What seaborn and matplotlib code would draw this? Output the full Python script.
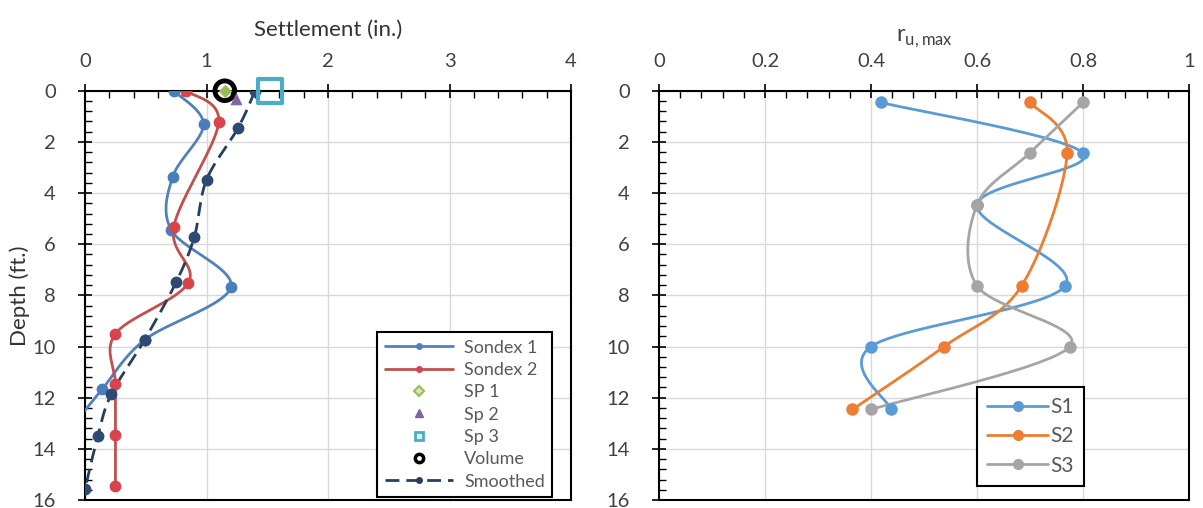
import numpy as np
import matplotlib
matplotlib.use("Agg")
import matplotlib.pyplot as plt
from matplotlib.ticker import MultipleLocator
from matplotlib.lines import Line2D
import seaborn as sns

# ---- left panel: settlement profiles ----
sondex1_x = [0.73, 0.975, 0.72, 0.71, 1.20, 0.49, 0.14, -0.15]
sondex1_d = [0.00, 1.32, 3.38, 5.45, 7.67, 9.74, 11.67, 13.40]
sondex2_x = [0.83, 1.10, 0.73, 0.85, 0.25, 0.25, 0.25, 0.25]
sondex2_d = [0.00, 1.23, 5.32, 7.50, 9.50, 11.45, 13.44, 15.45]
smooth_x = [1.40, 1.26, 1.00, 0.90, 0.75, 0.49, 0.215, 0.105, 0.00]
smooth_d = [0.00, 1.45, 3.48, 5.70, 7.48, 9.74, 11.87, 13.50, 15.57]
sp1_x, sp1_d = [1.15], [0.0]
sp2_x, sp2_d = [1.245], [0.32]
sp3_x, sp3_d = [1.52], [0.0]
vol_x, vol_d = [1.15], [0.0]

# ---- right panel: r_u,max ----
ru_d = [0.46, 2.44, 4.46, 7.63, 10.0, 12.46]
s1 = [0.419, 0.80, 0.60, 0.766, 0.40, 0.438]
s2_d = [0.46, 2.44, 7.63, 10.0, 12.46]
s2 = [0.70, 0.77, 0.684, 0.538, 0.365]
s3 = [0.80, 0.699, 0.60, 0.60, 0.775, 0.40]


def smooth_path(xs, ys, n=40):
    # Excel-style smoothed line (Bezier through points, 1/6 tangents)
    p = np.column_stack([xs, ys]).astype(float)
    out = []
    for i in range(len(p) - 1):
        p0 = p[i - 1] if i > 0 else p[i]
        p1, p2 = p[i], p[i + 1]
        p3 = p[i + 2] if i + 2 < len(p) else p[i + 1]
        c1 = p1 + (p2 - p0) / 6
        c2 = p2 - (p3 - p1) / 6
        t = np.linspace(0, 1, n)[:, None]
        seg = ((1 - t) ** 3) * p1 + 3 * ((1 - t) ** 2) * t * c1 + 3 * (1 - t) * t ** 2 * c2 + t ** 3 * p2
        out.append(seg if i == 0 else seg[1:])
    out = np.vstack(out)
    return out[:, 0], out[:, 1]


def curve(ax, xs, ys, color, mcolor, ms=7, ls="-", lw=2.0):
    cx, cy = smooth_path(xs, ys)
    sns.lineplot(x=cx, y=cy, sort=False, estimator=None, ax=ax, color=color,
                 lw=lw, linestyle=ls, zorder=3)
    ax.plot(xs, ys, "o", ms=ms, color=mcolor, mec=mcolor, zorder=4)


sns.set_style("whitegrid")
plt.rcParams["font.family"] = ["Lato", "DejaVu Sans"]
plt.rcParams["mathtext.fontset"] = "custom"
plt.rcParams["mathtext.rm"] = "Lato"

fig = plt.figure(figsize=(12.03, 5.08), dpi=100)
ax1 = fig.add_axes([0.0707, 0.0157, 0.404, 0.8057])
ax2 = fig.add_axes([0.5478, 0.0157, 0.4406, 0.8057])

txt = "#404040"
for ax in (ax1, ax2):
    ax.set_facecolor("white")
    ax.grid(True, which="major", color="#d9d9d9", lw=1.0)
    for s in ax.spines.values():
        s.set_color("black")
        s.set_linewidth(1.5)
    ax.xaxis.tick_top()
    ax.xaxis.set_label_position("top")
    ax.set_ylim(16, 0)
    ax.yaxis.set_major_locator(MultipleLocator(2))
    ax.yaxis.set_minor_locator(MultipleLocator(0.4))
    ax.tick_params(which="major", direction="inout", length=10, width=1.2,
                   color="black", labelsize=14.5, labelcolor=txt)
    ax.tick_params(which="minor", direction="in", length=5, width=1.0, color="black")
    ax.tick_params(axis="x", which="both", top=True, bottom=False, pad=10)
    ax.tick_params(axis="y", which="both", left=True, right=False, pad=16)
    ax.yaxis.set_major_formatter(matplotlib.ticker.FuncFormatter(lambda v, p: f"{v:g}"))
    ax.xaxis.set_major_formatter(matplotlib.ticker.FuncFormatter(lambda v, p: f"{v:g}"))

# left panel
ax1.set_xlim(0, 4)
ax1.xaxis.set_major_locator(MultipleLocator(1))
ax1.xaxis.set_minor_locator(MultipleLocator(0.2))
curve(ax1, sondex1_x, sondex1_d, "#4F81BD", "#4A7EBB", ms=7.5)
curve(ax1, sondex2_x, sondex2_d, "#C0504D", "#D9434E", ms=7.5)
curve(ax1, smooth_x, smooth_d, "#243F60", "#2C4A74", ms=7.5, ls=(0, (5, 2.5)))
sns.scatterplot(x=vol_x, y=vol_d, ax=ax1, marker="o", s=200, facecolor="none",
                edgecolor="black", linewidth=3.5, zorder=5)
sns.scatterplot(x=sp1_x, y=sp1_d, ax=ax1, marker="D", s=40, color="#9BBB59",
                edgecolor="#9BBB59", zorder=5)
sns.scatterplot(x=sp2_x, y=sp2_d, ax=ax1, marker="^", s=60, color="#8064A2",
                edgecolor="#8064A2", zorder=5)
sns.scatterplot(x=sp3_x, y=sp3_d, ax=ax1, marker="s", s=300, facecolor="none",
                edgecolor="#4BACC6", linewidth=3, zorder=5)
for c in ax1.collections:
    c.set_clip_on(False)
ax1.set_xlabel("Settlement (in.)", fontsize=16, color="#333333", labelpad=12)
ax1.set_ylabel("Depth (ft.)", fontsize=16, color="#333333", labelpad=2)

h1 = [
    Line2D([], [], color="#4F81BD", lw=2, marker="o", ms=4),
    Line2D([], [], color="#C0504D", lw=2, marker="o", ms=4, mfc="#D9434E"),
    Line2D([], [], ls="", marker="D", ms=5, mfc="#D7E4BD", mec="#9BBB59", mew=1.5),
    Line2D([], [], ls="", marker="^", ms=6, color="#8064A2"),
    Line2D([], [], ls="", marker="s", ms=6, mfc="#DAEEF3", mec="#4BACC6", mew=2),
    Line2D([], [], ls="", marker="o", ms=6, mfc="white", mec="black", mew=2.5),
    Line2D([], [], color="#243F60", lw=2, ls=(0, (5, 2.5)), marker="o", ms=4),
]
lab1 = ["Sondex 1", "Sondex 2", "SP 1", "Sp 2", "Sp 3", "Volume", "Smoothed"]
leg1 = ax1.legend(h1, lab1, loc="lower right", bbox_to_anchor=(0.961, 0.008),
                  frameon=True, fancybox=False, edgecolor="black", fontsize=13,
                  handlelength=3.8, labelspacing=0.35, borderpad=0.4,
                  handletextpad=0.6, borderaxespad=0, framealpha=1)
leg1.get_frame().set_linewidth(1.5)
for t in leg1.get_texts():
    t.set_color("#595959")

# right panel
ax2.set_xlim(0, 1)
ax2.xaxis.set_major_locator(MultipleLocator(0.2))
ax2.xaxis.set_minor_locator(MultipleLocator(0.04))
curve(ax2, s1, ru_d, "#5B9BD5", "#5B9BD5", ms=8)
curve(ax2, s2, s2_d, "#ED7D31", "#ED7D31", ms=8)
curve(ax2, s3, ru_d, "#A5A5A5", "#A5A5A5", ms=8)
ax2.set_xlabel(r"r$_{\mathregular{u,max}}$", fontsize=17, color="#404040", labelpad=8)
ax2.set_ylabel("")

h2 = [Line2D([], [], color=c, lw=2, marker="o", ms=7)
      for c in ["#5B9BD5", "#ED7D31", "#A5A5A5"]]
leg2 = ax2.legend(h2, ["S1", "S2", "S3"], loc="lower left",
                  bbox_to_anchor=(0.6, 0.034), frameon=True, fancybox=False,
                  edgecolor="black", fontsize=15, handlelength=2.9,
                  handletextpad=0.1, labelspacing=0.45, borderpad=0.5,
                  borderaxespad=0, framealpha=1)
leg2.get_frame().set_linewidth(1.5)
for t in leg2.get_texts():
    t.set_color("#595959")

fig.savefig("out.png", dpi=100)
